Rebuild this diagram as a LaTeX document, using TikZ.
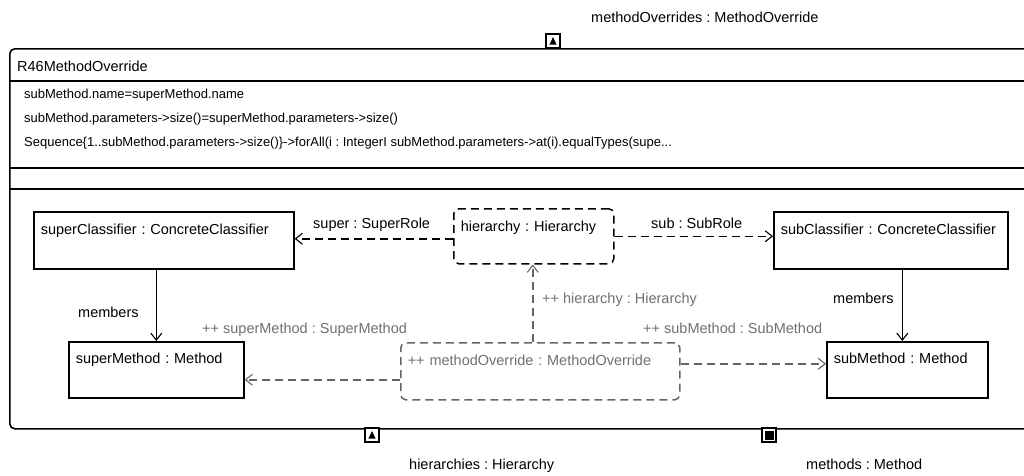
\documentclass[tikz,border=0pt]{standalone}
\usepackage{fontspec}
\setmainfont{Liberation Sans}
\usetikzlibrary{arrows.meta}
\definecolor{linegray}{HTML}{666666}
\definecolor{textgray}{HTML}{707070}
\frenchspacing
\begin{document}
\begin{tikzpicture}[x=1pt,y=-1pt,
  every node/.style={font=\fontsize{14.5}{17}\selectfont, inner sep=0pt},
  small/.style={font=\fontsize{13}{15}\selectfont},
  objbox/.style={draw, line width=1.6pt, anchor=north west, align=left,
    inner xsep=7pt, inner ysep=0pt},
  ghostbox/.style={objbox, line width=1.5pt, dashed, dash pattern=on 8pt off 5pt, rounded corners=5pt},
  lbl/.style={anchor=base west},
  port/.style={draw, line width=1.4pt, fill=white, minimum size=14pt},
  tip/.style={-{Straight Barb[length=7pt,width=11pt,line width=1.1pt]}},
  dep/.style={tip, line width=1.5pt, dash pattern=on 8pt off 5pt},
  assoc/.style={tip, line width=1.5pt},
  gray dep/.style={dep, draw=linegray}]
\useasboundingbox (0,0) rectangle (1024,475);
\clip (0,0) rectangle (1024,475);

% enclosing rule frame and its compartments
\node[draw, line width=1.6pt, rounded corners=5pt, anchor=north west,
  minimum width=1040pt, minimum height=380pt] (frame) at (9,48) {};
\draw[line width=1.6pt] (frame.west |- 0,81) -- (frame.east |- 0,81);
\draw[line width=1.6pt] (frame.west |- 0,168) -- (frame.east |- 0,168);
\draw[line width=1.6pt] (frame.west |- 0,189) -- (frame.east |- 0,189);

\node[lbl] (title) at (17,71) {R46MethodOverride};
\node[lbl, small] (c1) at (24,98) {subMethod.name=superMethod.name};
\node[lbl, small] (c2) at (24,122) {subMethod.parameters->size()=superMethod.parameters->size()};
\node[lbl, small] (c3) at (24,146) {Sequence\{1..subMethod.parameters->size()\}->forAll(i : IntegerI subMethod.parameters->at(i).equalTypes(supe...};

% ports
\node[port] (pTop) at (553,41) {};
\fill ([shift={(-3.6,3.5)}]pTop.center) -- ([shift={(3.6,3.5)}]pTop.center) -- ([shift={(0,-3.8)}]pTop.center) -- cycle;
\node[port] (pHier) at (372,435) {};
\fill ([shift={(-3.6,3.5)}]pHier.center) -- ([shift={(3.6,3.5)}]pHier.center) -- ([shift={(0,-3.8)}]pHier.center) -- cycle;
\node[port] (pMeth) at (769,435) {};
\fill ([shift={(-4.5,-4.5)}]pMeth.center) rectangle ([shift={(4.5,4.5)}]pMeth.center);

\node[lbl] (lTop) at (591,22) {methodOverrides : MethodOverride};
\node[lbl] (lHier) at (409,469) {hierarchies : Hierarchy};
\node[lbl] (lMeth) at (806,469) {methods : Method};

% objects
\node[objbox, text width=246pt, text height=23pt, text depth=34pt] (supC) at (33,211) {superClassifier : ConcreteClassifier};
\node[ghostbox, text width=146pt, text height=23pt, text depth=32pt] (hier) at (453,208) {hierarchy : Hierarchy};
\node[objbox, text width=220pt, text height=23pt, text depth=34pt] (subC) at (773,211) {subClassifier : ConcreteClassifier};
\node[objbox, text width=161pt, text height=22pt, text depth=34pt] (supM) at (68,341) {superMethod : Method};
\node[ghostbox, draw=linegray, text=textgray, text width=265pt, text height=23pt, text depth=34pt] (mo) at (400,342) {++ methodOverride : MethodOverride};
\node[objbox, text width=147pt, text height=22pt, text depth=34pt] (subM) at (826,341) {subMethod : Method};

% links
\draw[dep] ([yshift=-2.5pt]hier.west) -- ([yshift=-2.5pt]hier.west -| supC.east);
\draw[dep] (hier.east) -- (hier.east -| subC.west);
\draw[assoc] (supM.north |- supC.south) -- (supM.north);
\draw[assoc] ([xshift=-5pt]subM.north |- subC.south) -- ([xshift=-5pt]subM.north);
\draw[gray dep] ([xshift=-7.5pt]mo.north) -- ([xshift=-7.5pt]mo.north |- hier.south);
\draw[gray dep] ([yshift=-8.5pt]mo.west) -- ([yshift=-8.5pt]mo.west -| supM.east);
\draw[gray dep] ([yshift=7.5pt]mo.east) -- ([yshift=7.5pt]mo.east -| subM.west);

\node[lbl] (lSuper) at (313,228) {super : SuperRole};
\node[lbl] (lSub) at (651,228) {sub : SubRole};
\node[lbl] (lMemL) at (78,317) {members};
\node[lbl] (lMemR) at (833,303) {members};
\node[lbl, text=textgray] (lH) at (542,303) {++ hierarchy : Hierarchy};
\node[lbl, text=textgray] (lSM) at (202,333) {++ superMethod : SuperMethod};
\node[lbl, text=textgray] (lSubM) at (643,333) {++ subMethod : SubMethod};
\end{tikzpicture}
\end{document}
